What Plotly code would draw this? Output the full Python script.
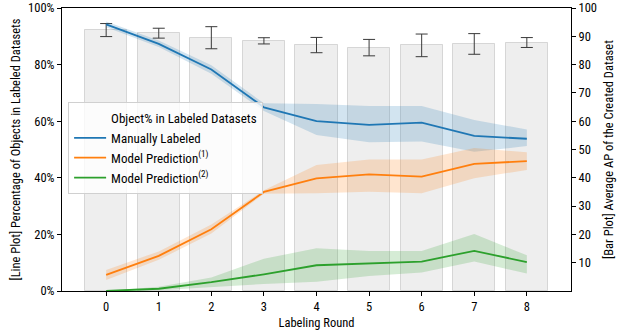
import plotly.graph_objects as go

rounds = [0, 1, 2, 3, 4, 5, 6, 7, 8]

# Bar plot: average AP (right axis)
ap_mean = [92.2, 91.1, 89.5, 88.4, 86.9, 86.0, 86.8, 87.3, 87.8]
ap_err = [2.3, 1.75, 3.9, 1.1, 2.7, 2.9, 4.0, 3.65, 1.75]

# Line plots: object percentage (left axis)
manual = [94.2, 87.3, 78.3, 64.9, 60.0, 58.7, 59.5, 54.8, 53.8]
manual_hi = [95.2, 88.5, 79.8, 66.3, 66.1, 65.4, 65.4, 60.4, 57.1]
manual_lo = [93.2, 86.2, 76.8, 63.6, 55.1, 52.6, 52.8, 49.2, 51.2]

pred1 = [5.7, 12.4, 21.8, 35.0, 39.8, 41.2, 40.4, 44.9, 45.9]
pred1_hi = [7.4, 14.0, 23.5, 35.6, 44.5, 46.5, 46.5, 50.5, 49.0]
pred1_lo = [3.9, 11.0, 20.3, 34.4, 34.5, 35.1, 34.5, 39.8, 42.8]

pred2 = [0.0, 0.8, 3.1, 5.9, 9.1, 9.8, 10.4, 14.2, 10.2]
pred2_hi = [0.0, 1.5, 4.8, 11.4, 15.1, 14.1, 14.1, 20.1, 12.6]
pred2_lo = [0.0, 0.3, 1.5, 2.5, 3.3, 5.3, 6.5, 10.4, 6.2]

left_ticks = [0, 20, 40, 60, 80, 100]
right_ticks = [10, 20, 30, 40, 50, 60, 70, 80, 90, 100]
legend_title = "Object% in Labeled Datasets"

FONT = "Roboto Condensed, Liberation Sans Narrow, Roboto, sans-serif"
FS = 12.5

fig = go.Figure()

fig.add_trace(go.Bar(
    x=rounds, y=ap_mean, width=0.8, yaxis="y",
    marker=dict(color="#eeeeee", line=dict(color="rgba(0,0,0,0.13)", width=1)),
    error_y=dict(type="data", array=ap_err, color="#3a3a3a", thickness=1, width=6),
    showlegend=False, hoverinfo="skip",
))

series = [
    ("Manually Labeled", manual, manual_lo, manual_hi, "#1f77b4", "rgba(31,119,180,0.2)"),
    ("Model Prediction<sup>(1)</sup>", pred1, pred1_lo, pred1_hi, "#ff7f0e", "rgba(255,127,14,0.2)"),
    ("Model Prediction<sup>(2)</sup>", pred2, pred2_lo, pred2_hi, "#2ca02c", "rgba(44,160,44,0.2)"),
]

for name, mid, lo, hi, col, fillcol in series:
    fig.add_trace(go.Scatter(
        x=rounds + rounds[::-1], y=hi + lo[::-1], yaxis="y2",
        fill="toself", fillcolor=fillcol, line=dict(width=0),
        mode="lines", showlegend=False, hoverinfo="skip",
    ))

# legend heading as a sample-less entry (text aligned with entries)
fig.add_trace(go.Scatter(
    x=[None], y=[None], yaxis="y2", mode="lines", name=legend_title,
    line=dict(color="rgba(0,0,0,0)", width=0), hoverinfo="skip",
))
for name, mid, lo, hi, col, fillcol in series:
    fig.add_trace(go.Scatter(
        x=rounds, y=mid, yaxis="y2", mode="lines", name=name,
        line=dict(color=col, width=1.8),
    ))

fig.update_layout(
    width=618, height=333,
    margin=dict(l=62, r=47, t=8, b=42, autoexpand=False),
    paper_bgcolor="white", plot_bgcolor="white",
    font=dict(family=FONT, size=FS, color="black"),
    bargap=0,
    xaxis=dict(
        range=[-0.84, 8.84], tickvals=rounds, ticktext=[str(r) for r in rounds],
        showline=True, linecolor="black", linewidth=1, mirror=True,
        ticks="outside", ticklen=4, tickcolor="black", showgrid=False, zeroline=False,
        tickfont=dict(size=FS), automargin=False,
        title=dict(text="Labeling Round", standoff=5, font=dict(size=FS)),
    ),
    yaxis=dict(
        side="right", range=[0, 100], tickvals=right_ticks,
        showline=True, linecolor="black", linewidth=1,
        ticks="outside", ticklen=4, tickcolor="black", showgrid=False, zeroline=False,
        tickfont=dict(size=FS), automargin=False,
        title=dict(text="[Bar Plot] Average AP of the Created Dataset", standoff=8, font=dict(size=FS)),
    ),
    yaxis2=dict(
        overlaying="y", side="left", range=[0, 100], tickvals=left_ticks,
        ticktext=[f"{t}%" for t in left_ticks],
        showline=True, linecolor="black", linewidth=1,
        ticks="outside", ticklen=4, tickcolor="black", showgrid=False, zeroline=False,
        tickfont=dict(size=FS), automargin=False,
        title=dict(text="[Line Plot] Percentage of Objects in Labeled Datasets", standoff=4, font=dict(size=FS)),
    ),
    legend=dict(
        x=0.012, y=0.668, xanchor="left", yanchor="top",
        bgcolor="rgba(255,255,255,0.8)", bordercolor="#d0d0d0", borderwidth=1,
        font=dict(size=13, family=FONT), itemwidth=32, tracegroupgap=0,
    ),
)

fig.write_html("out.html")
